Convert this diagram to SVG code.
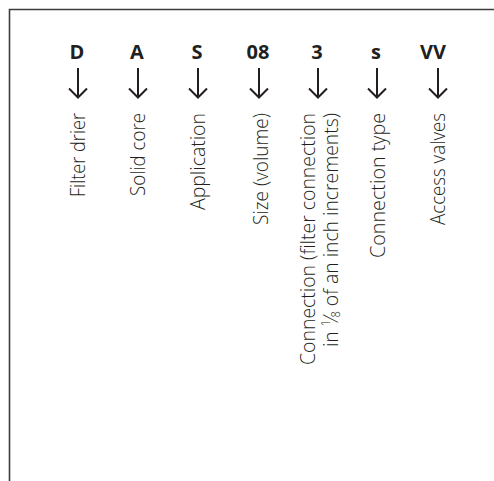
<svg xmlns="http://www.w3.org/2000/svg" width="494" height="481" viewBox="0 0 494 481">
<style>
.code{font-family:"Open Sans","Liberation Sans",sans-serif;font-weight:700;font-size:20px;fill:#231f20;text-anchor:middle}
.lab{font-family:"Open Sans","Liberation Sans",sans-serif;font-weight:300;font-size:21px;fill:#231f20;text-anchor:end}
.arr{stroke:#231f20;stroke-width:2;fill:none}
.frame{stroke:#3c3c3c;stroke-width:1.6;fill:none}
</style>
<rect width="494" height="481" fill="#fff"/>
<path class="frame" d="M9.5,481 V9.5 H494"/>
<g id="n-D"><text class="code" x="77" y="59">D</text><text class="lab" transform="translate(85,113) rotate(-90)" textLength="84" lengthAdjust="spacingAndGlyphs">Filter drier</text></g>
<g id="n-A"><text class="code" x="137" y="59">A</text><text class="lab" transform="translate(145,113) rotate(-90)" textLength="83" lengthAdjust="spacingAndGlyphs">Solid core</text></g>
<g id="n-S"><text class="code" x="197" y="59">S</text><text class="lab" transform="translate(205,113) rotate(-90)" textLength="97" lengthAdjust="spacingAndGlyphs">Application</text></g>
<g id="n-08"><text class="code" x="258" y="59">08</text><text class="lab" transform="translate(268,113) rotate(-90)" textLength="112" lengthAdjust="spacingAndGlyphs">Size (volume)</text></g>
<g id="n-3"><text class="code" x="317" y="59">3</text><text class="lab" transform="translate(315,113) rotate(-90)" textLength="252" lengthAdjust="spacingAndGlyphs">Connection (filter connection</text><text class="lab" transform="translate(338,113) rotate(-90)" textLength="234" lengthAdjust="spacingAndGlyphs">in <tspan font-size="12" dy="-8">1</tspan><tspan font-size="21" dy="8">⁄</tspan><tspan font-size="12" dy="2">8</tspan><tspan dy="-2"> of an inch increments)</tspan></text></g>
<g id="n-s"><text class="code" x="376" y="59">s</text><text class="lab" transform="translate(385,113) rotate(-90)" textLength="145" lengthAdjust="spacingAndGlyphs">Connection type</text></g>
<g id="n-VV"><text class="code" x="433" y="59">VV</text><text class="lab" transform="translate(445,113) rotate(-90)" textLength="112" lengthAdjust="spacingAndGlyphs">Access valves</text></g>
<g id="connectors">
<path class="arr" d="M78,68 V97.5 M69,88.5 L78,97.5 L87,88.5"/>
<path class="arr" d="M138,68 V97.5 M129,88.5 L138,97.5 L147,88.5"/>
<path class="arr" d="M198,68 V97.5 M189,88.5 L198,97.5 L207,88.5"/>
<path class="arr" d="M259,68 V97.5 M250,88.5 L259,97.5 L268,88.5"/>
<path class="arr" d="M318,68 V97.5 M309,88.5 L318,97.5 L327,88.5"/>
<path class="arr" d="M377,68 V97.5 M368,88.5 L377,97.5 L386,88.5"/>
<path class="arr" d="M438,68 V97.5 M429,88.5 L438,97.5 L447,88.5"/>
</g>
</svg>
